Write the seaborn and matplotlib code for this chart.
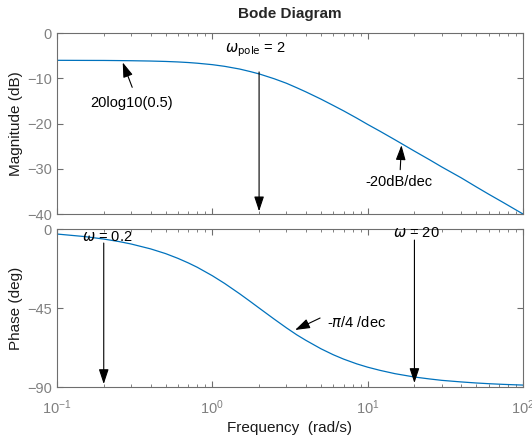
import numpy as np
import pandas as pd
import matplotlib
matplotlib.use("Agg")
import matplotlib.pyplot as plt
import seaborn as sns

# values (first order lag, pole at 2 rad/s)
freq = [0.1, 0.15, 0.2, 0.25, 0.3, 0.4, 0.5, 0.6, 0.7, 0.8, 1.0, 1.2, 1.5, 1.75, 2.0,
        2.5, 3.0, 3.5, 4.0, 5.0, 6.0, 7.0, 8.5, 10, 12, 15, 20, 25, 30, 40, 50, 60, 75, 100]
mag_db = [-6.03, -6.05, -6.06, -6.09, -6.12, -6.19, -6.28, -6.39, -6.52, -6.67, -6.99,
          -7.36, -7.96, -8.51, -9.03, -10.1, -11.1, -12.1, -13.0, -14.6, -16.0, -17.2,
          -18.8, -20.2, -21.7, -23.6, -26.1, -28.0, -29.6, -32.0, -34.0, -35.6, -37.5, -40.0]
phase_deg = [-2.86, -4.29, -5.71, -7.13, -8.53, -11.3, -14.0, -16.7, -19.3, -21.8, -26.6,
             -31.0, -36.9, -41.2, -45.0, -51.3, -56.3, -60.3, -63.4, -68.2, -71.6, -74.1,
             -76.8, -78.7, -80.5, -82.4, -84.3, -85.4, -86.2, -87.1, -87.7, -88.1, -88.5, -88.9]
mag_ticks = [0, -10, -20, -30, -40]
phase_ticks = [0, -45, -90]
freq_ticks = [0.1, 1, 10, 100]

df = pd.DataFrame({"freq": freq, "mag": mag_db, "phase": phase_deg})

sns.set_style("ticks")
plt.rcParams['font.family'] = ['Liberation Sans', 'DejaVu Sans']
plt.rcParams['mathtext.fontset'] = 'dejavusans'

line_col = '#0072BD'
axis_col = '#6e6e6e'
label_col = '#808080'

fig = plt.figure(figsize=(5.32, 4.41), dpi=100)
ax1 = fig.add_axes([0.1071, 0.5147, 0.876, 0.4104])
ax2 = fig.add_axes([0.1071, 0.1224, 0.876, 0.3583])

sns.lineplot(data=df, x="freq", y="mag", ax=ax1, color=line_col, linewidth=0.9)
sns.lineplot(data=df, x="freq", y="phase", ax=ax2, color=line_col, linewidth=0.9)

for ax in (ax1, ax2):
    ax.set_xscale('log')
    ax.set_xlim(0.1, 100)
    ax.set_xticks(freq_ticks)
    ax.tick_params(which='both', direction='in', top=True, right=True,
                   color=axis_col, labelcolor=label_col, labelsize=10.5)
    ax.tick_params(which='major', length=4)
    ax.tick_params(which='minor', length=2.5)
    ax.tick_params(axis='x', pad=8)
    for s in ax.spines.values():
        s.set_color(axis_col)
        s.set_linewidth(0.8)
    ax.set_xlabel('')
    ax.set_ylabel('')

ax1.set_ylim(-40, 0)
ax1.set_yticks(mag_ticks)
ax1.tick_params(axis='x', labelbottom=False)
ax1.set_ylabel('Magnitude (dB)', fontsize=11, color='#1a1a1a', labelpad=3)
ax1.set_title('Bode Diagram', fontsize=11, fontweight='bold', pad=11)

ax2.set_ylim(-90, 0)
ax2.set_yticks(phase_ticks)
ax2.set_ylabel('Phase (deg)', fontsize=11, color='#1a1a1a', labelpad=3)
ax2.set_xlabel('Frequency  (rad/s)', fontsize=11, color='#1a1a1a', labelpad=3)

arr = dict(arrowstyle='-|>,head_length=0.9,head_width=0.3', color='black',
           linewidth=0.8, shrinkA=0, shrinkB=0)
txt = dict(fontsize=10.5, color='black')

ax1.annotate('', xy=(2, -39.4), xytext=(2, -8.6), arrowprops=arr)
ax1.text(1.88, -3.6, r'$\omega_{\mathrm{pole}}$ = 2', ha='center', va='center', **txt)
ax1.annotate('', xy=(0.265, -6.5), xytext=(0.305, -12.0), arrowprops=arr)
ax1.text(0.3, -15.5, '20log10(0.5)', ha='center', va='center', **txt)
ax1.annotate('', xy=(16.5, -24.8), xytext=(16.2, -30.2), arrowprops=arr)
ax1.text(15.8, -33.0, '-20dB/dec', ha='center', va='center', **txt)

ax2.annotate('', xy=(0.2, -88.3), xytext=(0.2, -8.0), arrowprops=arr)
ax2.text(0.21, -4.4, r'$\omega$ = 0.2', ha='center', va='center', **txt)
ax2.annotate('', xy=(20, -87.7), xytext=(20, -6.3), arrowprops=arr)
ax2.text(20.5, -2.3, r'$\omega$ = 20', ha='center', va='center', **txt)
ax2.annotate('', xy=(3.41, -57.5), xytext=(4.94, -50.7), arrowprops=arr)
ax2.text(5.5, -53.0, r'-$\pi$/4 /dec', ha='left', va='center', **txt)

fig.savefig('out.png', dpi=100)
